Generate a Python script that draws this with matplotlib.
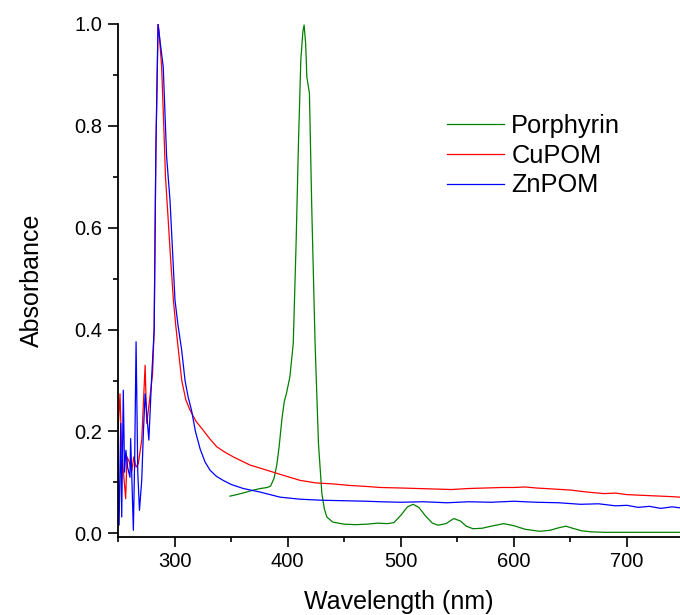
import matplotlib
matplotlib.use("Agg")
from matplotlib import pyplot as plt
from matplotlib.ticker import MultipleLocator

plt.rcParams["font.family"] = ["Liberation Sans", "DejaVu Sans"]

# Porphyrin spectrum
porph_wl = [349, 355, 362, 370, 376, 382, 385, 388, 390.5, 392.5, 395, 397,
            399, 402, 405, 407.5, 409.6, 411.7, 413.5, 414.6, 416, 417, 419.3,
            421.4, 424.3, 427.3, 430.3, 432.5, 434.7, 440, 450, 460, 470, 480,
            488, 494, 500, 506, 511, 516, 522, 528, 533, 540, 547, 553, 558,
            564, 572, 580, 591, 600, 610, 623, 632, 640, 646, 652, 660, 668,
            680, 700, 720, 747]
porph_abs = [0.073, 0.076, 0.080, 0.085, 0.088, 0.090, 0.093, 0.108, 0.135,
             0.170, 0.225, 0.258, 0.275, 0.307, 0.373, 0.569, 0.766, 0.930,
             0.985, 0.998, 0.96, 0.896, 0.864, 0.635, 0.373, 0.176, 0.078,
             0.048, 0.032, 0.022, 0.018, 0.017, 0.018, 0.020, 0.019, 0.021,
             0.035, 0.052, 0.057, 0.051, 0.034, 0.020, 0.016, 0.019, 0.029,
             0.024, 0.014, 0.009, 0.010, 0.014, 0.019, 0.015, 0.008, 0.004,
             0.006, 0.011, 0.014, 0.010, 0.005, 0.003, 0.002, 0.002, 0.002,
             0.002]

# CuPOM spectrum
cu_wl = [250, 251.8, 253, 254.7, 256.8, 258, 260, 262, 264, 266, 268, 271,
         274, 275.4, 278.3, 280.6, 282, 283.5, 285.5, 286.5, 288.6, 290.5,
         292, 294, 296.5, 299, 301, 303.4, 306.4, 310, 313.7, 319, 325.5,
         331, 337.3, 344, 352, 366.8, 381.6, 396, 411, 425, 440, 455, 470,
         482, 500, 515, 530, 545, 560, 575, 590, 600, 610, 620, 635, 650,
         665, 680, 690, 700, 710, 720, 730, 740, 747]
cu_abs = [0.20, 0.274, 0.18, 0.124, 0.068, 0.15, 0.14, 0.12, 0.15, 0.13,
          0.137, 0.183, 0.330, 0.216, 0.268, 0.314, 0.40, 0.75, 1.0, 0.98,
          0.916, 0.80, 0.70, 0.63, 0.54, 0.458, 0.41, 0.36, 0.300, 0.262,
          0.242, 0.220, 0.202, 0.186, 0.170, 0.160, 0.150, 0.134, 0.124,
          0.114, 0.104, 0.099, 0.097, 0.094, 0.092, 0.090, 0.089, 0.088,
          0.087, 0.086, 0.088, 0.089, 0.090, 0.090, 0.091, 0.089, 0.087,
          0.085, 0.081, 0.078, 0.079, 0.076, 0.075, 0.074, 0.073, 0.072,
          0.071]

# ZnPOM spectrum
zn_wl = [249.4, 251, 252.4, 253.3, 254.7, 255.8, 257, 258.5, 260.6, 261.2,
         262.5, 263.6, 264.8, 266, 267.5, 269, 271, 272.5, 274, 277.3, 279.8,
         282, 283.5, 285.4, 287, 290, 293, 296, 300.4, 303, 306.3, 309.3,
         312, 315, 318.5, 322.6, 327, 331.4, 337, 343, 350, 360.8, 375.7,
         393.4, 411, 430, 450, 470, 482, 500, 520, 541, 560, 580, 600, 620,
         640, 659, 675, 690, 700, 710, 720, 730, 740, 747]
zn_abs = [0.238, 0.016, 0.216, 0.032, 0.281, 0.12, 0.163, 0.13, 0.110,
          0.186, 0.09, 0.006, 0.15, 0.376, 0.12, 0.045, 0.104, 0.20, 0.274,
          0.183, 0.307, 0.40, 0.75, 1.0, 0.97, 0.916, 0.74, 0.654, 0.458,
          0.41, 0.36, 0.300, 0.268, 0.242, 0.200, 0.166, 0.140, 0.124,
          0.112, 0.104, 0.096, 0.088, 0.081, 0.071, 0.067, 0.065, 0.064,
          0.063, 0.062, 0.061, 0.062, 0.060, 0.062, 0.061, 0.063, 0.061,
          0.060, 0.057, 0.058, 0.054, 0.055, 0.051, 0.053, 0.049, 0.052,
          0.050]

fig = plt.figure(figsize=(6.8, 6.15), dpi=100)
ax = fig.add_axes([0.1735, 0.127, 0.8265, 0.834])

ax.plot(porph_wl, porph_abs, color="#008000", lw=0.9, label="Porphyrin")
ax.plot(cu_wl, cu_abs, color="#ff0000", lw=0.9, label="CuPOM")
ax.plot(zn_wl, zn_abs, color="#0000ff", lw=0.9, label="ZnPOM")

ax.set_xlim(250, 747)
ax.set_ylim(-0.007, 1.0)
ax.xaxis.set_major_locator(MultipleLocator(100))
ax.xaxis.set_minor_locator(MultipleLocator(50))
ax.yaxis.set_minor_locator(MultipleLocator(0.1))
ax.set_yticks([0.0, 0.2, 0.4, 0.6, 0.8, 1.0])
ax.set_yticklabels(["0.0", "0.2", "0.4", "0.6", "0.8", "1.0"])

for side in ["top", "right"]:
    ax.spines[side].set_visible(False)
for side in ["left", "bottom"]:
    ax.spines[side].set_linewidth(1.3)

ax.tick_params(which="major", direction="out", length=7.2, width=1.2,
               labelsize=14.5, pad=4)
ax.tick_params(which="minor", direction="out", length=3.6, width=1.2)

ax.set_xlabel("Wavelength (nm)", fontsize=18, labelpad=13)
ax.set_ylabel("Absorbance", fontsize=18, labelpad=22)

ax.legend(loc="upper left", bbox_to_anchor=(0.657, 0.815),
          bbox_transform=fig.transFigure, frameon=False, fontsize=18.3,
          handlelength=2.24, handletextpad=0.3, labelspacing=0.23,
          borderpad=0, borderaxespad=0)

fig.savefig("out.png", dpi=100)
